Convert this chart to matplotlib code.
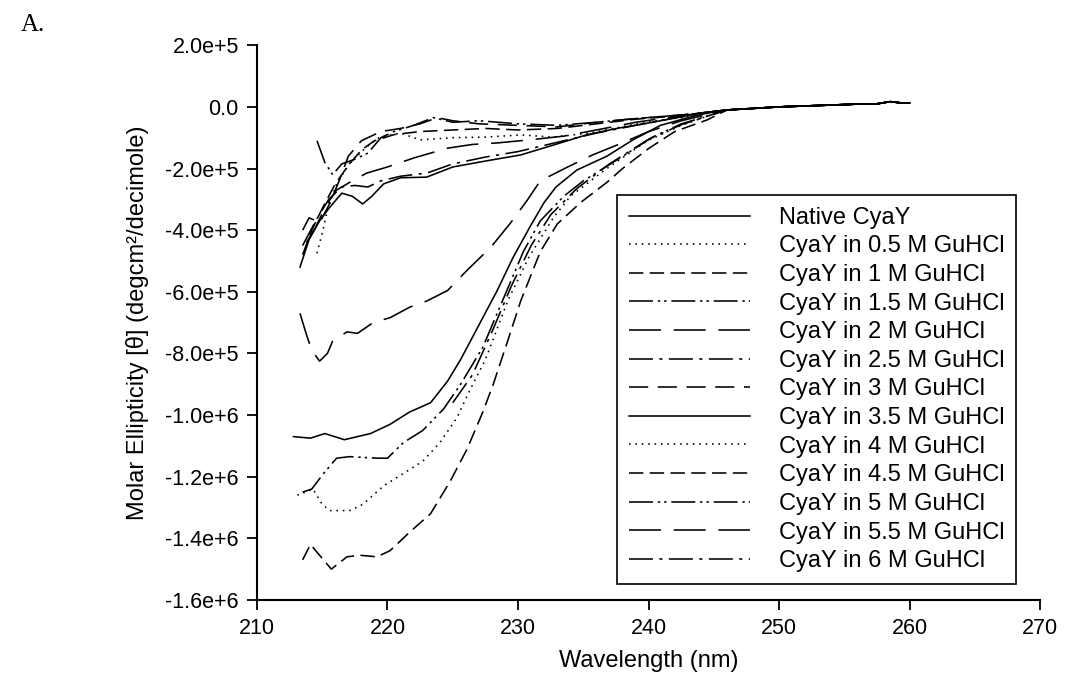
import numpy as np
import matplotlib
matplotlib.use('Agg')
import matplotlib.pyplot as plt

plt.rcParams['font.family'] = ['Liberation Sans', 'DejaVu Sans']

# valores em unidades de 1e5 deg cm2/dmol
tail_wl = [246, 248, 250, 252, 254, 256, 257.5, 258.5, 259.3, 260]
tail_val = [-0.1, -0.05, 0.0, 0.03, 0.06, 0.09, 0.1, 0.17, 0.13, 0.12]

nat_wl = [213.3, 214.0, 214.8, 215.5, 216.5, 217.3, 218.1, 218.8, 219.7, 221.0, 223.0, 225.0,
          227.6, 230.2, 232.7, 235.3, 237.8, 240.3, 242.5, 244.0]
nat_val = [-5.2, -4.3, -3.7, -3.3, -2.8, -2.9, -3.15, -2.9, -2.5, -2.3, -2.28, -1.95,
           -1.75, -1.56, -1.24, -0.9, -0.68, -0.5, -0.32, -0.2]

m05_wl = [214.6, 215.0, 215.4, 216.1, 217.1, 218.4, 219.4, 221.0, 222.5, 225.0, 227.6, 230.2,
          232.7, 235.5, 238.5, 240.5, 242.5, 244.0]
m05_val = [-4.75, -4.1, -3.36, -2.5, -1.83, -1.3, -0.98, -0.85, -1.07, -1.0, -0.98, -0.91,
           -0.98, -0.85, -0.6, -0.45, -0.35, -0.25]

m1_wl = [213.5, 214.2, 215.0, 216.0, 217.0, 218.0, 219.0, 220.5, 222.5, 225.0, 227.5, 230.0,
         233.0, 236.0, 239.0, 242.0, 244.0]
m1_val = [-4.8, -4.0, -3.3, -2.5, -1.9, -1.4, -1.1, -0.9, -0.8, -0.75, -0.7, -0.75,
          -0.7, -0.55, -0.4, -0.3, -0.2]

m15_wl = [214.6, 215.2, 215.8, 216.5, 217.5, 218.5, 219.5, 220.5, 222.0, 223.5, 225.0, 227.0,
          230.0, 233.0, 236.0, 239.0, 242.0, 244.0]
m15_val = [-1.1, -1.8, -2.2, -1.85, -1.7, -1.5, -1.0, -0.8, -0.6, -0.35, -0.5, -0.45,
           -0.55, -0.6, -0.5, -0.38, -0.28, -0.2]

m2_wl = [213.8, 214.5, 215.3, 216.1, 217.1, 218.4, 220.0, 222.0, 224.6, 226.5, 228.4, 230.9,
         233.5, 236.0, 239.0, 242.0, 244.0]
m2_val = [-4.4, -3.9, -3.2, -2.7, -2.45, -2.15, -1.95, -1.66, -1.34, -1.22, -1.17, -1.07,
          -0.95, -0.75, -0.5, -0.32, -0.2]

m25_wl = [213.5, 214.5, 215.5, 216.5, 217.5, 218.5, 219.5, 221.0, 223.0, 225.0, 227.6, 230.0,
          233.0, 236.0, 239.0, 242.0, 244.0]
m25_val = [-4.5, -3.7, -3.0, -2.6, -2.55, -2.6, -2.4, -2.25, -2.15, -1.85, -1.62, -1.45,
           -1.15, -0.85, -0.6, -0.36, -0.22]

m3_wl = [213.5, 214.0, 214.8, 215.5, 216.3, 217.0, 218.0, 219.5, 221.0, 222.5, 223.8, 225.0,
         227.0, 230.0, 233.0, 236.0, 239.0, 242.0, 244.0]
m3_val = [-4.0, -3.6, -3.75, -3.2, -2.4, -1.6, -1.1, -0.8, -0.7, -0.55, -0.35, -0.45,
          -0.55, -0.6, -0.65, -0.5, -0.38, -0.28, -0.2]

m35_wl = [212.8, 214.1, 215.2, 216.7, 218.7, 220.2, 221.7, 223.3, 224.6, 225.6, 227.1, 228.4,
          229.6, 230.9, 232.0, 232.9, 234.5, 236.8, 238.8, 240.9, 243.0, 244.5]
m35_val = [-10.7, -10.75, -10.6, -10.8, -10.6, -10.3, -9.9, -9.6, -8.9, -8.2, -7.0, -5.96,
           -4.9, -3.9, -3.1, -2.6, -2.05, -1.6, -1.07, -0.6, -0.35, -0.2]

m4_wl = [213.1, 214.3, 215.0, 215.6, 217.1, 218.1, 219.7, 221.2, 222.7, 224.0, 225.3, 226.3,
         227.5, 229.2, 230.8, 232.7, 234.0, 236.8, 239.9, 242.5, 244.5]
m4_val = [-12.6, -12.4, -12.9, -13.1, -13.1, -12.9, -12.3, -11.9, -11.5, -10.9, -10.1, -9.2,
          -8.2, -6.3, -4.9, -3.6, -2.9, -2.0, -1.1, -0.6, -0.3]

m45_wl = [213.5, 214.1, 214.7, 215.7, 216.9, 217.9, 219.2, 220.2, 221.7, 223.3, 224.8, 226.1,
          227.3, 228.1, 229.2, 230.2, 231.7, 233.0, 234.8, 236.8, 238.0, 240.0, 242.0, 244.5]
m45_val = [-14.7, -14.2, -14.5, -15.0, -14.6, -14.55, -14.6, -14.4, -13.8, -13.2, -12.15, -11.1,
           -9.9, -9.0, -7.6, -6.3, -4.7, -3.8, -3.1, -2.45, -2.0, -1.35, -0.8, -0.42]

m5_wl = [213.5, 214.2, 215.1, 216.1, 217.1, 219.2, 220.0, 221.2, 222.7, 224.3, 225.6, 227.3,
         229.2, 230.4, 231.7, 233.5, 235.0, 237.8, 240.3, 242.5, 244.5]
m5_val = [-12.5, -12.4, -11.9, -11.4, -11.35, -11.4, -11.4, -10.9, -10.5, -9.8, -9.0, -7.8,
          -5.9, -4.7, -3.7, -2.9, -2.4, -1.66, -0.98, -0.55, -0.3]

m55_wl = [213.3, 213.8, 214.2, 214.8, 215.4, 215.8, 216.9, 217.7, 218.9, 220.2, 221.7, 223.0,
          224.6, 226.1, 227.9, 229.4, 230.7, 231.7, 233.8, 235.7, 237.8, 240.0, 242.5, 244.5]
m55_val = [-6.7, -7.4, -7.9, -8.25, -8.0, -7.6, -7.3, -7.35, -7.0, -6.84, -6.5, -6.3,
           -5.96, -5.3, -4.56, -3.78, -3.03, -2.4, -1.95, -1.56, -1.2, -0.8, -0.45, -0.25]

m6_wl = [225.0, 226.5, 228.0, 229.5, 231.0, 232.5, 234.5, 237.0, 240.0, 242.5, 244.5]
m6_val = [-9.6, -8.7, -7.3, -5.8, -4.5, -3.5, -2.65, -1.85, -1.05, -0.58, -0.3]

labels = ['Native CyaY', 'CyaY in 0.5 M GuHCl', 'CyaY in 1 M GuHCl', 'CyaY in 1.5 M GuHCl',
          'CyaY in 2 M GuHCl', 'CyaY in 2.5 M GuHCl', 'CyaY in 3 M GuHCl', 'CyaY in 3.5 M GuHCl',
          'CyaY in 4 M GuHCl', 'CyaY in 4.5 M GuHCl', 'CyaY in 5 M GuHCl', 'CyaY in 5.5 M GuHCl',
          'CyaY in 6 M GuHCl']
curvas = [(nat_wl, nat_val), (m05_wl, m05_val), (m1_wl, m1_val), (m15_wl, m15_val),
          (m2_wl, m2_val), (m25_wl, m25_val), (m3_wl, m3_val), (m35_wl, m35_val),
          (m4_wl, m4_val), (m45_wl, m45_val), (m5_wl, m5_val), (m55_wl, m55_val),
          (m6_wl, m6_val)]

estilos = ['-', (0, (1, 3)), (0, (9, 4)), (0, (15, 3, 1.5, 2.5, 1.5, 3)),
           (0, (20, 8)), (0, (15, 4, 2, 4)), (0, (12, 6))]

yticks = [2e5, 0, -2e5, -4e5, -6e5, -8e5, -1e6, -1.2e6, -1.4e6, -1.6e6]
ytick_labels = ['2.0e+5', '0.0', '-2.0e+5', '-4.0e+5', '-6.0e+5', '-8.0e+5',
                '-1.0e+6', '-1.2e+6', '-1.4e+6', '-1.6e+6']
xticks = [210, 220, 230, 240, 250, 260, 270]

fig = plt.figure(figsize=(10.66, 6.96), dpi=100)
ax = fig.add_axes([0.241, 0.138, 0.735, 0.797])

for i, (wl, val) in enumerate(curvas):
    x = np.array(list(wl) + tail_wl)
    y = np.array(list(val) + tail_val) * 1e5
    ax.plot(x, y, color='black', lw=1.15, linestyle=estilos[i % 7], label=labels[i])

ax.set_xlim(210, 270)
ax.set_ylim(-1.6e6, 2e5)
ax.set_xticks(xticks)
ax.set_yticks(yticks)
ax.set_yticklabels(ytick_labels)
ax.spines['top'].set_visible(False)
ax.spines['right'].set_visible(False)
ax.spines['left'].set_linewidth(1.5)
ax.spines['bottom'].set_linewidth(1.5)
ax.tick_params(direction='out', length=7, width=1.3, labelsize=15.5, pad=6)

ax.set_xlabel('Wavelength (nm)', fontsize=17, labelpad=8)
ax.set_ylabel('Molar Ellipticity [θ] (degcm²/decimole)', fontsize=17, labelpad=12)

leg = ax.legend(loc='upper left', bbox_to_anchor=(0.46, 0.73), borderaxespad=0,
                fontsize=17, handlelength=5.1, handletextpad=1.25, labelspacing=0.28,
                fancybox=False, edgecolor='black', framealpha=1, borderpad=0.5)
leg.get_frame().set_linewidth(1.2)

fig.text(0.019, 0.955, 'A.', fontsize=18, family='Liberation Serif')

plt.savefig('out.png', dpi=100)
